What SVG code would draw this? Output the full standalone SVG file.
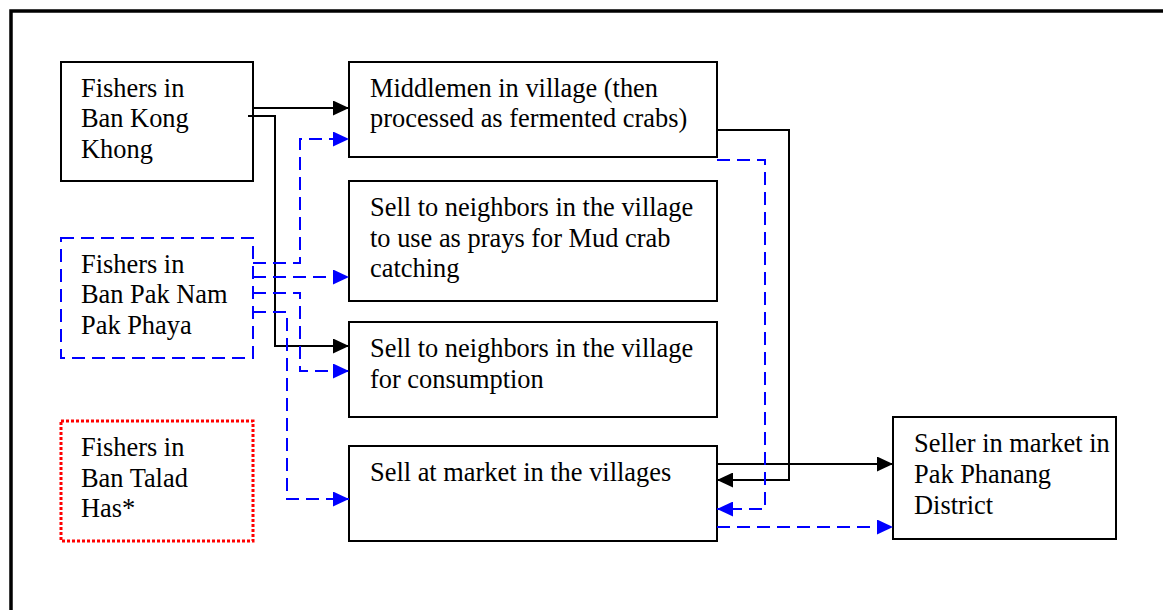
<svg xmlns="http://www.w3.org/2000/svg" width="1163" height="610" viewBox="0 0 1163 610">
<style>
.box{fill:#fff;stroke:#000;stroke-width:2}
.bluebox{fill:#fff;stroke:#0000ff;stroke-width:2;stroke-dasharray:13 7}
.redbox{fill:#fff;stroke:#ff0000;stroke-width:3;stroke-dasharray:3 2}
.blk{fill:none;stroke:#000;stroke-width:2}
.blu{fill:none;stroke:#0000ff;stroke-width:2;stroke-dasharray:13 7}
</style>
<defs>
<marker id="ab" viewBox="0 0 16 15" refX="16" refY="7.5" markerWidth="16" markerHeight="15" markerUnits="userSpaceOnUse" orient="auto"><path d="M0,0 L16,7.5 L0,15 z" fill="#000"/></marker>
<marker id="au" viewBox="0 0 16 15" refX="16" refY="7.5" markerWidth="16" markerHeight="15" markerUnits="userSpaceOnUse" orient="auto"><path d="M0,0 L16,7.5 L0,15 z" fill="#0000ff"/></marker>
</defs>
<rect x="0" y="0" width="1163" height="610" fill="#fff"/>
<rect x="11" y="11" width="1200" height="700" fill="none" stroke="#000" stroke-width="3.5"/>
<g font-family="'Liberation Serif', 'Times New Roman', Times, serif" font-size="26.4" fill="#000">
<g id="fishers-kong-khong"><rect class="box" x="61" y="62" width="192" height="119"/><text x="81" y="97">Fishers in</text><text x="81" y="127">Ban Kong</text><text x="81" y="158">Khong</text></g>
<g id="fishers-pak-nam"><rect class="bluebox" x="61" y="238" width="192" height="120"/><text x="81" y="273">Fishers in</text><text x="81" y="303">Ban Pak Nam</text><text x="81" y="334">Pak Phaya</text></g>
<g id="fishers-talad"><rect class="redbox" x="61" y="421" width="192" height="120"/><text x="81" y="456">Fishers in</text><text x="81" y="487">Ban Talad</text><text x="81" y="517">Has*</text></g>
<g id="middlemen"><rect class="box" x="349" y="62" width="368" height="95"/><text x="370" y="97">Middlemen in village (then</text><text x="370" y="127">processed as fermented crabs)</text></g>
<g id="neighbors-prays"><rect class="box" x="349" y="181" width="368" height="120"/><text x="370" y="216">Sell to neighbors in the village</text><text x="370" y="247">to use as prays for Mud crab</text><text x="370" y="277">catching</text></g>
<g id="neighbors-consumption"><rect class="box" x="349" y="322" width="368" height="95"/><text x="370" y="357">Sell to neighbors in the village</text><text x="370" y="388">for consumption</text></g>
<g id="market-villages"><rect class="box" x="349" y="446" width="368" height="95"/><text x="370" y="481">Sell at market in the villages</text></g>
<g id="seller-pak-phanang"><rect class="box" x="893" y="417" width="223" height="122"/><text x="914" y="452">Seller in market in</text><text x="914" y="483">Pak Phanang</text><text x="914" y="514">District</text></g>
</g>
<g id="connectors">
<path class="blk" d="M253,108 H349" marker-end="url(#ab)"/>
<path class="blk" d="M248,116 H275 V346 H349" marker-end="url(#ab)"/>
<path class="blk" d="M717,130 H789 V480 H717" marker-end="url(#ab)"/>
<path class="blk" d="M717,464 H893" marker-end="url(#ab)"/>
<path class="blu" d="M253,263 H300 V139 H349" marker-end="url(#au)"/>
<path class="blu" d="M253,277 H349" marker-end="url(#au)"/>
<path class="blu" d="M253,293 H300 V371 H349" marker-end="url(#au)"/>
<path class="blu" d="M253,312 H287 V499 H349" marker-end="url(#au)"/>
<path class="blu" d="M717,160 H765 V509 H717" marker-end="url(#au)"/>
<path class="blu" d="M717,527 H893" marker-end="url(#au)"/>
</g>
</svg>
